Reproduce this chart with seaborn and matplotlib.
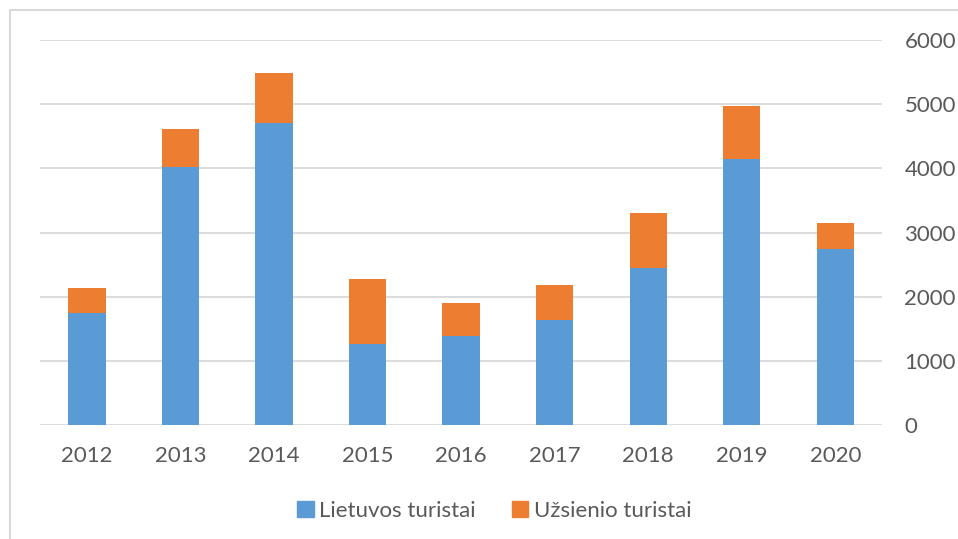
import pandas as pd
import numpy as np
import matplotlib
matplotlib.use('Agg')
import matplotlib.pyplot as plt
import seaborn as sns
from matplotlib.patches import Rectangle, Patch

# ─── data ──────────────────────────────────────────────────────
years = ['2012', '2013', '2014', '2015', '2016', '2017', '2018', '2019', '2020']
lietuvos = [1750, 4020, 4700, 1265, 1385, 1635, 2445, 4145, 2745]
uzsienio = [385, 595, 785, 1010, 525, 555, 860, 825, 405]
series_names = ['Lietuvos turistai', 'Užsienio turistai']
y_ticks = [0, 1000, 2000, 3000, 4000, 5000, 6000]

blue = '#5B9BD5'
orange = '#ED7D31'
text_col = '#595959'
grid_col = '#D9D9D9'

df = pd.DataFrame({'year': years, 'lt': lietuvos, 'uz': uzsienio})
df['total'] = df['lt'] + df['uz']

# ─── style ─────────────────────────────────────────────────────
sns.set_style('white')
plt.rcParams['font.family'] = ['Lato', 'DejaVu Sans']

fig = plt.figure(figsize=(9.58, 5.39), dpi=100)
ax = fig.add_axes([0.0418, 0.211, 0.879, 0.7148])

# stacked: total (orange) behind, domestic (blue) on top
sns.barplot(data=df, x='year', y='total', color=orange, saturation=1,
            width=0.4, linewidth=0, ax=ax, zorder=3)
sns.barplot(data=df, x='year', y='lt', color=blue, saturation=1,
            width=0.4, linewidth=0, ax=ax, zorder=4)

ax.set_xlim(-0.5, len(years) - 0.5)
ax.set_ylim(0, 6000)
ax.set_yticks(y_ticks)
ax.yaxis.tick_right()
ax.grid(axis='y', color=grid_col, linewidth=1.3, zorder=0)
ax.set_axisbelow(True)
for s in ax.spines.values():
    s.set_visible(False)
ax.set_xlabel('')
ax.set_ylabel('')
ax.tick_params(axis='y', length=0, pad=16, labelsize=16, labelcolor=text_col)
ax.tick_params(axis='x', length=0, pad=15, labelsize=16, labelcolor=text_col)
for lbl in ax.get_yticklabels():
    lbl.set_horizontalalignment('left')

handles = [Patch(color=blue), Patch(color=orange)]
fig.legend(handles, series_names, loc='center', bbox_to_anchor=(0.516, 0.052),
           ncol=2, frameon=False, fontsize=16, labelcolor=text_col,
           handlelength=0.75, handleheight=0.75, handletextpad=0.25,
           columnspacing=1.6)

# chart border
fig.patches.append(Rectangle((10 / 958, -0.05), 1.2, 1 - 10 / 539 + 0.05,
                             transform=fig.transFigure, fill=False,
                             edgecolor=grid_col, linewidth=1.5))

fig.savefig('out.png', dpi=100)
